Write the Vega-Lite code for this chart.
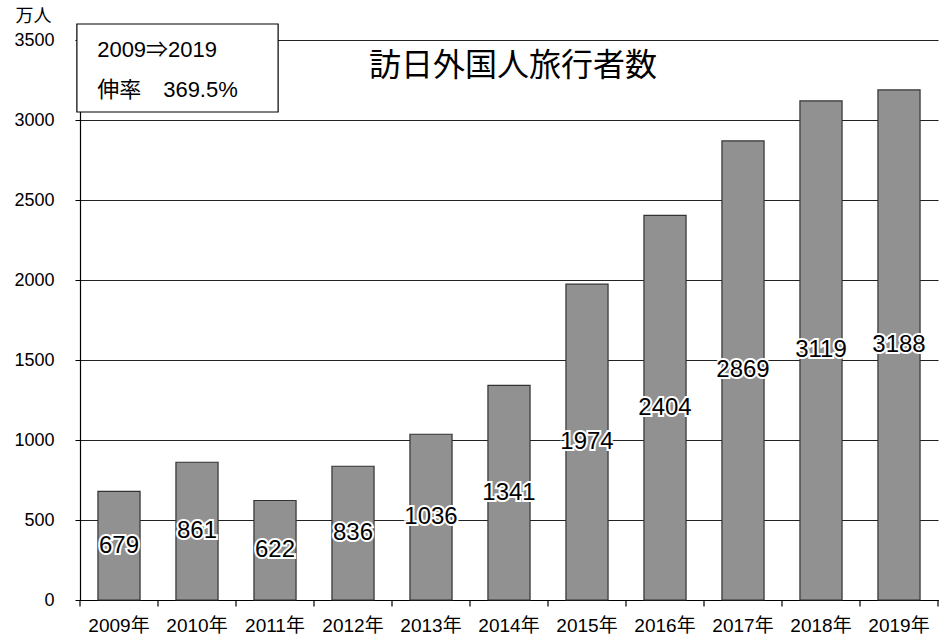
{
  "$schema": "https://vega.github.io/schema/vega-lite/v6.json",
  "width": 858,
  "height": 560,
  "autosize": {"type": "none"},
  "padding": {"left": 80, "top": 40, "right": 1, "bottom": 39},
  "background": "white",
  "config": {
    "view": {"stroke": null},
    "font": "Liberation Sans, Noto Sans CJK JP",
    "axis": {"labelFont": "Liberation Sans, Noto Sans CJK JP", "titleFont": "Noto Sans CJK JP"}
  },
  "datasets": {
    "visitors": [
      {"year": "2009年", "v": 679},
      {"year": "2010年", "v": 861},
      {"year": "2011年", "v": 622},
      {"year": "2012年", "v": 836},
      {"year": "2013年", "v": 1036},
      {"year": "2014年", "v": 1341},
      {"year": "2015年", "v": 1974},
      {"year": "2016年", "v": 2404},
      {"year": "2017年", "v": 2869},
      {"year": "2018年", "v": 3119},
      {"year": "2019年", "v": 3188}
    ],
    "ticks": [{"b": 0}, {"b": 1}, {"b": 2}, {"b": 3}, {"b": 4}, {"b": 5}, {"b": 6}, {"b": 7}, {"b": 8}, {"b": 9}, {"b": 10}, {"b": 11}],
    "box": [{"x0": -0.04, "x1": 2.54, "y0": 3050, "y1": 3600}],
    "notes": [
      {"x": 0.22, "y": 3437, "t": "2009⇒2019"},
      {"x": 0.22, "y": 3187, "t": "伸率　369.5%"}
    ],
    "title": [{"x": 5.55, "y": 3340, "t": "訪日外国人旅行者数"}]
  },
  "layer": [
    {
      "data": {"name": "visitors"},
      "encoding": {
        "x": {
          "field": "year", "type": "nominal", "sort": null,
          "scale": {"paddingInner": 0.46, "paddingOuter": 0.23},
          "axis": {
            "title": null, "labelAngle": 0, "labelFontSize": 19, "labelColor": "#000",
            "labelPadding": 16, "ticks": false,
            "domainColor": "#000", "domainWidth": 1.2,
            "labelFont": "Liberation Sans, Noto Sans CJK JP"
          }
        }
      },
      "layer": [
        {
          "mark": {"type": "bar", "fill": "#919191", "stroke": "#333333", "strokeWidth": 1.2},
          "encoding": {
            "y": {
              "field": "v", "type": "quantitative",
              "scale": {"domain": [0, 3500], "nice": false},
              "axis": {
                "values": [0, 500, 1000, 1500, 2000, 2500, 3000, 3500], "format": "d",
                "title": "万人", "titleAngle": 0, "titleAlign": "left", "titleBaseline": "bottom",
                "titleX": -65, "titleY": -15, "titleFontSize": 18, "titleFontWeight": "normal", "titleColor": "#000",
                "labelFontSize": 18, "labelColor": "#000", "labelPadding": 21, "tickSize": 5,
                "tickColor": "#000", "domainColor": "#000", "domainWidth": 1.2,
                "grid": true, "gridColor": "#222", "gridWidth": 1
              }
            }
          }
        },
        {
          "mark": {"type": "text", "fontSize": 24, "baseline": "middle", "align": "center", "stroke": "white", "strokeWidth": 4, "fill": "white"},
          "encoding": {
            "y": {"field": "v", "type": "quantitative", "scale": {"domain": [0, 7000], "nice": false}, "axis": null},
            "text": {"field": "v"}
          }
        },
        {
          "mark": {"type": "text", "fontSize": 24, "baseline": "middle", "align": "center", "fill": "black"},
          "encoding": {
            "y": {"field": "v", "type": "quantitative", "scale": {"domain": [0, 7000], "nice": false}, "axis": null},
            "text": {"field": "v"}
          }
        }
      ],
      "resolve": {"scale": {"y": "independent"}}
    },
    {
      "layer": [
        {
          "data": {"name": "ticks"},
          "mark": {"type": "rule", "stroke": "black", "strokeWidth": 1.2},
          "encoding": {
            "x": {"field": "b", "type": "quantitative", "scale": {"domain": [0, 11], "nice": false, "zero": false}, "axis": null},
            "y": {"datum": 0, "type": "quantitative", "scale": {"domain": [0, 3500], "nice": false}, "axis": null},
            "y2": {"datum": -40}
          }
        },
        {
          "data": {"name": "box"},
          "mark": {"type": "rect", "fill": "white", "stroke": "black", "strokeWidth": 1.2},
          "encoding": {
            "x": {"field": "x0", "type": "quantitative", "scale": {"domain": [0, 11], "nice": false, "zero": false}, "axis": null},
            "x2": {"field": "x1"},
            "y": {"field": "y0", "type": "quantitative", "scale": {"domain": [0, 3500], "nice": false}, "axis": null},
            "y2": {"field": "y1"}
          }
        },
        {
          "data": {"name": "notes"},
          "mark": {"type": "text", "fontSize": 22, "align": "left", "baseline": "middle", "fill": "black", "font": "Liberation Sans, Noto Sans CJK JP"},
          "encoding": {
            "x": {"field": "x", "type": "quantitative", "scale": {"domain": [0, 11], "nice": false, "zero": false}, "axis": null},
            "y": {"field": "y", "type": "quantitative", "scale": {"domain": [0, 3500], "nice": false}, "axis": null},
            "text": {"field": "t"}
          }
        },
        {
          "data": {"name": "title"},
          "mark": {"type": "text", "fontSize": 32, "align": "center", "baseline": "middle", "fill": "black", "font": "Noto Sans CJK JP"},
          "encoding": {
            "x": {"field": "x", "type": "quantitative", "scale": {"domain": [0, 11], "nice": false, "zero": false}, "axis": null},
            "y": {"field": "y", "type": "quantitative", "scale": {"domain": [0, 3500], "nice": false}, "axis": null},
            "text": {"field": "t"}
          }
        }
      ]
    }
  ],
  "resolve": {"scale": {"x": "independent", "y": "independent"}}
}
